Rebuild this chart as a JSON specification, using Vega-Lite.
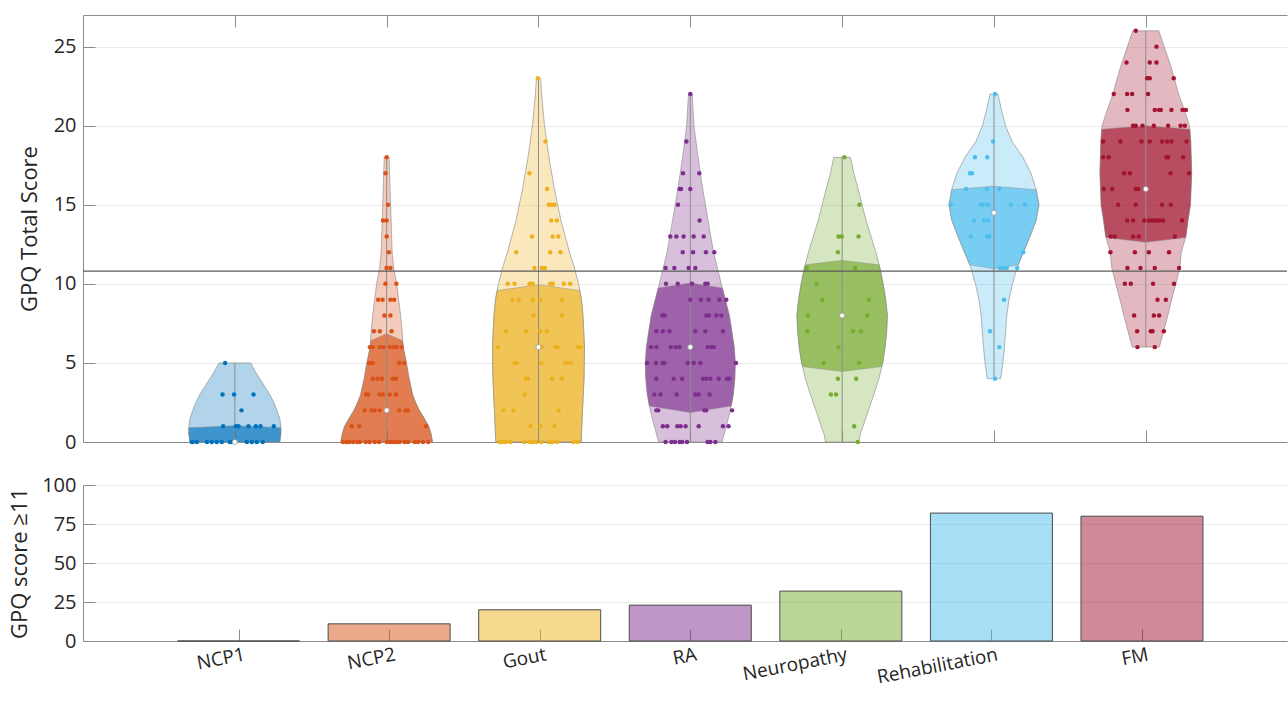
{
  "$schema": "https://vega.github.io/schema/vega-lite/v6.json",
  "padding": {"left": 8, "top": 14, "right": 0, "bottom": 0},
  "bounds": "flush",
  "spacing": 43,
  "config": {
    "view": {"stroke": null},
    "font": "Open Sans",
    "axis": {
      "labelFont": "Open Sans", "titleFont": "Open Sans",
      "labelColor": "#262626", "titleColor": "#262626",
      "labelFontSize": 20, "titleFontSize": 22, "titleFontWeight": "normal",
      "domainColor": "#8c8c8c", "tickColor": "#8c8c8c", "tickSize": -12,
      "gridColor": "#ebebeb", "labelFlush": false
    }
  },
  "datasets": {
    "violin": [
      {"g":"NCP1","v":0,"lo":0.704,"hi":1.296},{"g":"NCP1","v":0.5,"lo":0.697,"hi":1.303},{"g":"NCP1","v":1,"lo":0.697,"hi":1.303},{"g":"NCP1","v":1.5,"lo":0.704,"hi":1.296},{"g":"NCP1","v":2,"lo":0.723,"hi":1.277},{"g":"NCP1","v":2.5,"lo":0.743,"hi":1.257},{"g":"NCP1","v":3,"lo":0.769,"hi":1.231},{"g":"NCP1","v":3.5,"lo":0.802,"hi":1.198},{"g":"NCP1","v":4,"lo":0.835,"hi":1.165},{"g":"NCP1","v":4.5,"lo":0.868,"hi":1.132},{"g":"NCP1","v":5,"lo":0.895,"hi":1.105},
      {"g":"NCP2","v":0,"lo":1.698,"hi":2.302},{"g":"NCP2","v":0.5,"lo":1.707,"hi":2.293},{"g":"NCP2","v":1,"lo":1.723,"hi":2.277},{"g":"NCP2","v":1.5,"lo":1.753,"hi":2.247},{"g":"NCP2","v":2,"lo":1.785,"hi":2.215},{"g":"NCP2","v":2.5,"lo":1.809,"hi":2.191},{"g":"NCP2","v":3,"lo":1.829,"hi":2.171},{"g":"NCP2","v":4,"lo":1.852,"hi":2.148},{"g":"NCP2","v":5,"lo":1.870,"hi":2.130},{"g":"NCP2","v":6,"lo":1.891,"hi":2.109},{"g":"NCP2","v":7,"lo":1.898,"hi":2.102},{"g":"NCP2","v":8,"lo":1.908,"hi":2.092},{"g":"NCP2","v":9,"lo":1.921,"hi":2.079},{"g":"NCP2","v":10,"lo":1.934,"hi":2.066},{"g":"NCP2","v":11,"lo":1.954,"hi":2.046},{"g":"NCP2","v":12,"lo":1.964,"hi":2.036},{"g":"NCP2","v":15,"lo":1.974,"hi":2.026},{"g":"NCP2","v":18,"lo":1.984,"hi":2.016},
      {"g":"Gout","v":0,"lo":2.719,"hi":3.281},{"g":"Gout","v":2,"lo":2.710,"hi":3.290},{"g":"Gout","v":4,"lo":2.700,"hi":3.300},{"g":"Gout","v":6,"lo":2.697,"hi":3.303},{"g":"Gout","v":8,"lo":2.707,"hi":3.293},{"g":"Gout","v":9,"lo":2.717,"hi":3.283},{"g":"Gout","v":10,"lo":2.736,"hi":3.264},{"g":"Gout","v":11,"lo":2.763,"hi":3.237},{"g":"Gout","v":12,"lo":2.796,"hi":3.204},{"g":"Gout","v":14,"lo":2.852,"hi":3.148},{"g":"Gout","v":16,"lo":2.895,"hi":3.105},{"g":"Gout","v":18,"lo":2.931,"hi":3.069},{"g":"Gout","v":20,"lo":2.960,"hi":3.040},{"g":"Gout","v":21,"lo":2.970,"hi":3.030},{"g":"Gout","v":22,"lo":2.980,"hi":3.020},{"g":"Gout","v":23,"lo":2.986,"hi":3.014},
      {"g":"RA","v":0,"lo":3.791,"hi":4.209},{"g":"RA","v":1,"lo":3.763,"hi":4.237},{"g":"RA","v":2,"lo":3.736,"hi":4.264},{"g":"RA","v":3,"lo":3.717,"hi":4.283},{"g":"RA","v":4,"lo":3.707,"hi":4.293},{"g":"RA","v":5,"lo":3.704,"hi":4.296},{"g":"RA","v":6,"lo":3.711,"hi":4.289},{"g":"RA","v":8,"lo":3.743,"hi":4.257},{"g":"RA","v":10,"lo":3.796,"hi":4.204},{"g":"RA","v":12,"lo":3.847,"hi":4.153},{"g":"RA","v":14,"lo":3.883,"hi":4.117},{"g":"RA","v":16,"lo":3.918,"hi":4.082},{"g":"RA","v":18,"lo":3.949,"hi":4.051},{"g":"RA","v":20,"lo":3.976,"hi":4.024},{"g":"RA","v":22,"lo":3.988,"hi":4.012},
      {"g":"Neuropathy","v":0,"lo":4.890,"hi":5.110},{"g":"Neuropathy","v":0.5,"lo":4.881,"hi":5.119},{"g":"Neuropathy","v":1,"lo":4.862,"hi":5.138},{"g":"Neuropathy","v":2,"lo":4.827,"hi":5.173},{"g":"Neuropathy","v":3,"lo":4.791,"hi":5.209},{"g":"Neuropathy","v":4,"lo":4.758,"hi":5.242},{"g":"Neuropathy","v":5,"lo":4.733,"hi":5.267},{"g":"Neuropathy","v":6,"lo":4.717,"hi":5.283},{"g":"Neuropathy","v":7,"lo":4.707,"hi":5.293},{"g":"Neuropathy","v":8,"lo":4.702,"hi":5.298},{"g":"Neuropathy","v":9,"lo":4.713,"hi":5.287},{"g":"Neuropathy","v":10,"lo":4.730,"hi":5.270},{"g":"Neuropathy","v":11,"lo":4.751,"hi":5.249},{"g":"Neuropathy","v":12,"lo":4.778,"hi":5.222},{"g":"Neuropathy","v":14,"lo":4.842,"hi":5.158},{"g":"Neuropathy","v":16,"lo":4.895,"hi":5.105},{"g":"Neuropathy","v":17,"lo":4.923,"hi":5.077},{"g":"Neuropathy","v":18,"lo":4.945,"hi":5.055},
      {"g":"Rehabilitation","v":4,"lo":5.956,"hi":6.044},{"g":"Rehabilitation","v":5,"lo":5.941,"hi":6.059},{"g":"Rehabilitation","v":6,"lo":5.931,"hi":6.069},{"g":"Rehabilitation","v":7,"lo":5.923,"hi":6.077},{"g":"Rehabilitation","v":8,"lo":5.916,"hi":6.084},{"g":"Rehabilitation","v":9,"lo":5.901,"hi":6.099},{"g":"Rehabilitation","v":10,"lo":5.878,"hi":6.122},{"g":"Rehabilitation","v":11,"lo":5.848,"hi":6.152},{"g":"Rehabilitation","v":12,"lo":5.806,"hi":6.194},{"g":"Rehabilitation","v":13,"lo":5.763,"hi":6.237},{"g":"Rehabilitation","v":14,"lo":5.723,"hi":6.277},{"g":"Rehabilitation","v":15,"lo":5.704,"hi":6.296},{"g":"Rehabilitation","v":16,"lo":5.723,"hi":6.277},{"g":"Rehabilitation","v":17,"lo":5.756,"hi":6.244},{"g":"Rehabilitation","v":18,"lo":5.809,"hi":6.191},{"g":"Rehabilitation","v":19,"lo":5.881,"hi":6.119},{"g":"Rehabilitation","v":20,"lo":5.924,"hi":6.076},{"g":"Rehabilitation","v":21,"lo":5.951,"hi":6.049},{"g":"Rehabilitation","v":22,"lo":5.974,"hi":6.026},
      {"g":"FM","v":6,"lo":6.910,"hi":7.090},{"g":"FM","v":7,"lo":6.883,"hi":7.117},{"g":"FM","v":8,"lo":6.855,"hi":7.145},{"g":"FM","v":9,"lo":6.830,"hi":7.170},{"g":"FM","v":10,"lo":6.802,"hi":7.198},{"g":"FM","v":11,"lo":6.776,"hi":7.224},{"g":"FM","v":12,"lo":6.766,"hi":7.234},{"g":"FM","v":13,"lo":6.736,"hi":7.264},{"g":"FM","v":14,"lo":6.722,"hi":7.278},{"g":"FM","v":15,"lo":6.706,"hi":7.294},{"g":"FM","v":17,"lo":6.698,"hi":7.302},{"g":"FM","v":19,"lo":6.704,"hi":7.296},{"g":"FM","v":20,"lo":6.712,"hi":7.288},{"g":"FM","v":21,"lo":6.746,"hi":7.254},{"g":"FM","v":22,"lo":6.784,"hi":7.216},{"g":"FM","v":23,"lo":6.812,"hi":7.188},{"g":"FM","v":24,"lo":6.843,"hi":7.157},{"g":"FM","v":25,"lo":6.879,"hi":7.121},{"g":"FM","v":26,"lo":6.914,"hi":7.086}
    ],
    "iqr": [
      {"g":"NCP1","v":0,"lo":0.704,"hi":1.296},{"g":"NCP1","v":0.5,"lo":0.697,"hi":1.303},{"g":"NCP1","v":0.9,"lo":0.697,"hi":1.303},{"g":"NCP1","v":1.03,"lo":1,"hi":1},
      {"g":"NCP2","v":0,"lo":1.698,"hi":2.302},{"g":"NCP2","v":0.5,"lo":1.707,"hi":2.293},{"g":"NCP2","v":1,"lo":1.723,"hi":2.277},{"g":"NCP2","v":1.5,"lo":1.753,"hi":2.247},{"g":"NCP2","v":2,"lo":1.785,"hi":2.215},{"g":"NCP2","v":2.5,"lo":1.809,"hi":2.191},{"g":"NCP2","v":3,"lo":1.829,"hi":2.171},{"g":"NCP2","v":4,"lo":1.852,"hi":2.148},{"g":"NCP2","v":5,"lo":1.870,"hi":2.130},{"g":"NCP2","v":6,"lo":1.891,"hi":2.109},{"g":"NCP2","v":6.4,"lo":1.895,"hi":2.105},{"g":"NCP2","v":6.85,"lo":2,"hi":2},
      {"g":"Gout","v":0,"lo":2.719,"hi":3.281},{"g":"Gout","v":2,"lo":2.710,"hi":3.290},{"g":"Gout","v":4,"lo":2.700,"hi":3.300},{"g":"Gout","v":6,"lo":2.697,"hi":3.303},{"g":"Gout","v":8,"lo":2.707,"hi":3.293},{"g":"Gout","v":9,"lo":2.717,"hi":3.283},{"g":"Gout","v":9.57,"lo":2.727,"hi":3.273},{"g":"Gout","v":9.95,"lo":3,"hi":3},
      {"g":"RA","v":1.86,"lo":4,"hi":4},{"g":"RA","v":2.28,"lo":3.730,"hi":4.270},{"g":"RA","v":3,"lo":3.717,"hi":4.283},{"g":"RA","v":4,"lo":3.707,"hi":4.293},{"g":"RA","v":5,"lo":3.704,"hi":4.296},{"g":"RA","v":6,"lo":3.711,"hi":4.289},{"g":"RA","v":8,"lo":3.743,"hi":4.257},{"g":"RA","v":9.74,"lo":3.789,"hi":4.211},{"g":"RA","v":10.06,"lo":4,"hi":4},
      {"g":"Neuropathy","v":4.46,"lo":5,"hi":5},{"g":"Neuropathy","v":4.77,"lo":4.740,"hi":5.260},{"g":"Neuropathy","v":5,"lo":4.733,"hi":5.267},{"g":"Neuropathy","v":6,"lo":4.717,"hi":5.283},{"g":"Neuropathy","v":7,"lo":4.707,"hi":5.293},{"g":"Neuropathy","v":8,"lo":4.702,"hi":5.298},{"g":"Neuropathy","v":9,"lo":4.713,"hi":5.287},{"g":"Neuropathy","v":10,"lo":4.730,"hi":5.270},{"g":"Neuropathy","v":11,"lo":4.751,"hi":5.249},{"g":"Neuropathy","v":11.2,"lo":4.756,"hi":5.244},{"g":"Neuropathy","v":11.48,"lo":5,"hi":5},
      {"g":"Rehabilitation","v":10.95,"lo":6,"hi":6},{"g":"Rehabilitation","v":11.2,"lo":5.842,"hi":6.158},{"g":"Rehabilitation","v":12,"lo":5.806,"hi":6.194},{"g":"Rehabilitation","v":13,"lo":5.763,"hi":6.237},{"g":"Rehabilitation","v":14,"lo":5.723,"hi":6.277},{"g":"Rehabilitation","v":15,"lo":5.704,"hi":6.296},{"g":"Rehabilitation","v":15.95,"lo":5.722,"hi":6.278},{"g":"Rehabilitation","v":16.17,"lo":6,"hi":6},
      {"g":"FM","v":12.63,"lo":7,"hi":7},{"g":"FM","v":12.93,"lo":6.738,"hi":7.262},{"g":"FM","v":13,"lo":6.736,"hi":7.264},{"g":"FM","v":14,"lo":6.722,"hi":7.278},{"g":"FM","v":15,"lo":6.706,"hi":7.294},{"g":"FM","v":17,"lo":6.698,"hi":7.302},{"g":"FM","v":19,"lo":6.704,"hi":7.296},{"g":"FM","v":19.78,"lo":6.710,"hi":7.290},{"g":"FM","v":19.99,"lo":7,"hi":7}
    ],
    "pts": [
      {"g":"NCP1","x":0.936,"v":5},{"g":"NCP1","x":0.919,"v":3},{"g":"NCP1","x":0.995,"v":3},{"g":"NCP1","x":1.123,"v":3},{"g":"NCP1","x":1.044,"v":2},
      {"g":"NCP1","x":0.923,"v":1},{"g":"NCP1","x":1.007,"v":1},{"g":"NCP1","x":1.024,"v":1},{"g":"NCP1","x":1.090,"v":1},{"g":"NCP1","x":1.138,"v":1},{"g":"NCP1","x":1.169,"v":1},{"g":"NCP1","x":1.257,"v":1},
      {"g":"NCP1","x":0.717,"v":0},{"g":"NCP1","x":0.723,"v":0},{"g":"NCP1","x":0.750,"v":0},{"g":"NCP1","x":0.816,"v":0},{"g":"NCP1","x":0.848,"v":0},{"g":"NCP1","x":0.881,"v":0},{"g":"NCP1","x":0.914,"v":0},{"g":"NCP1","x":0.967,"v":0},{"g":"NCP1","x":0.980,"v":0},{"g":"NCP1","x":1.079,"v":0},{"g":"NCP1","x":1.112,"v":0},{"g":"NCP1","x":1.145,"v":0},{"g":"NCP1","x":1.184,"v":0},
      {"g":"NCP2","x":2.0,"v":18},{"g":"NCP2","x":1.993,"v":17},{"g":"NCP2","x":2.009,"v":15},{"g":"NCP2","x":1.976,"v":14},{"g":"NCP2","x":1.999,"v":14},{"g":"NCP2","x":2.0,"v":13},{"g":"NCP2","x":2.015,"v":12},{"g":"NCP2","x":1.999,"v":11},{"g":"NCP2","x":2.025,"v":11},{"g":"NCP2","x":1.992,"v":10},{"g":"NCP2","x":2.064,"v":10},
      {"g":"NCP2","x":1.944,"v":9},{"g":"NCP2","x":1.973,"v":9},{"g":"NCP2","x":2.025,"v":9},{"g":"NCP2","x":2.049,"v":9},{"g":"NCP2","x":1.985,"v":8},{"g":"NCP2","x":2.025,"v":8},{"g":"NCP2","x":1.916,"v":7},{"g":"NCP2","x":1.955,"v":7},{"g":"NCP2","x":2.032,"v":7},
      {"g":"NCP2","x":1.889,"v":6},{"g":"NCP2","x":1.908,"v":6},{"g":"NCP2","x":1.954,"v":6},{"g":"NCP2","x":1.980,"v":6},{"g":"NCP2","x":2.020,"v":6},{"g":"NCP2","x":2.046,"v":6},{"g":"NCP2","x":2.066,"v":6},{"g":"NCP2","x":2.099,"v":6},
      {"g":"NCP2","x":1.885,"v":5},{"g":"NCP2","x":1.908,"v":5},{"g":"NCP2","x":2.082,"v":5},{"g":"NCP2","x":2.115,"v":5},
      {"g":"NCP2","x":1.908,"v":4},{"g":"NCP2","x":1.939,"v":4},{"g":"NCP2","x":1.968,"v":4},{"g":"NCP2","x":2.040,"v":4},{"g":"NCP2","x":2.061,"v":4},
      {"g":"NCP2","x":1.863,"v":3},{"g":"NCP2","x":1.878,"v":3},{"g":"NCP2","x":1.954,"v":3},{"g":"NCP2","x":1.976,"v":3},{"g":"NCP2","x":2.020,"v":3},{"g":"NCP2","x":2.061,"v":3},
      {"g":"NCP2","x":1.855,"v":2},{"g":"NCP2","x":1.899,"v":2},{"g":"NCP2","x":1.921,"v":2},{"g":"NCP2","x":1.954,"v":2},{"g":"NCP2","x":2.082,"v":2},{"g":"NCP2","x":2.125,"v":2},{"g":"NCP2","x":2.140,"v":2},
      {"g":"NCP2","x":1.770,"v":1},{"g":"NCP2","x":1.820,"v":1},{"g":"NCP2","x":2.259,"v":1},
      {"g":"NCP2","x":1.713,"v":0},{"g":"NCP2","x":1.736,"v":0},{"g":"NCP2","x":1.753,"v":0},{"g":"NCP2","x":1.779,"v":0},{"g":"NCP2","x":1.806,"v":0},{"g":"NCP2","x":1.824,"v":0},{"g":"NCP2","x":1.863,"v":0},{"g":"NCP2","x":1.889,"v":0},{"g":"NCP2","x":1.922,"v":0},{"g":"NCP2","x":1.950,"v":0},{"g":"NCP2","x":2.002,"v":0},{"g":"NCP2","x":2.024,"v":0},{"g":"NCP2","x":2.046,"v":0},{"g":"NCP2","x":2.064,"v":0},{"g":"NCP2","x":2.086,"v":0},{"g":"NCP2","x":2.119,"v":0},{"g":"NCP2","x":2.141,"v":0},{"g":"NCP2","x":2.185,"v":0},{"g":"NCP2","x":2.207,"v":0},{"g":"NCP2","x":2.240,"v":0},{"g":"NCP2","x":2.273,"v":0},
      {"g":"Gout","x":2.995,"v":23},{"g":"Gout","x":3.046,"v":19},{"g":"Gout","x":2.941,"v":17},{"g":"Gout","x":3.057,"v":16},{"g":"Gout","x":3.068,"v":15},{"g":"Gout","x":3.084,"v":15},{"g":"Gout","x":3.105,"v":15},{"g":"Gout","x":3.084,"v":14},{"g":"Gout","x":3.121,"v":14},
      {"g":"Gout","x":2.958,"v":13},{"g":"Gout","x":3.094,"v":13},{"g":"Gout","x":3.130,"v":13},{"g":"Gout","x":2.853,"v":12},{"g":"Gout","x":3.077,"v":12},{"g":"Gout","x":3.145,"v":12},{"g":"Gout","x":2.974,"v":11},{"g":"Gout","x":3.022,"v":11},{"g":"Gout","x":3.042,"v":11},
      {"g":"Gout","x":2.798,"v":10},{"g":"Gout","x":2.842,"v":10},{"g":"Gout","x":2.941,"v":10},{"g":"Gout","x":2.962,"v":10},{"g":"Gout","x":3.077,"v":10},{"g":"Gout","x":3.094,"v":10},{"g":"Gout","x":3.167,"v":10},{"g":"Gout","x":3.209,"v":10},
      {"g":"Gout","x":2.827,"v":9},{"g":"Gout","x":2.870,"v":9},{"g":"Gout","x":2.962,"v":9},{"g":"Gout","x":3.013,"v":9},{"g":"Gout","x":3.153,"v":9},{"g":"Gout","x":2.967,"v":8},{"g":"Gout","x":3.153,"v":8},
      {"g":"Gout","x":2.787,"v":7},{"g":"Gout","x":2.919,"v":7},{"g":"Gout","x":3.011,"v":7},{"g":"Gout","x":3.055,"v":7},
      {"g":"Gout","x":2.732,"v":6},{"g":"Gout","x":3.024,"v":6},{"g":"Gout","x":3.112,"v":6},{"g":"Gout","x":3.125,"v":6},{"g":"Gout","x":3.259,"v":6},{"g":"Gout","x":3.275,"v":6},
      {"g":"Gout","x":2.842,"v":5},{"g":"Gout","x":2.857,"v":5},{"g":"Gout","x":3.018,"v":5},{"g":"Gout","x":3.176,"v":5},{"g":"Gout","x":3.193,"v":5},{"g":"Gout","x":3.215,"v":5},
      {"g":"Gout","x":2.914,"v":4},{"g":"Gout","x":2.930,"v":4},{"g":"Gout","x":3.090,"v":4},{"g":"Gout","x":3.153,"v":4},{"g":"Gout","x":2.908,"v":3},
      {"g":"Gout","x":2.769,"v":2},{"g":"Gout","x":2.835,"v":2},{"g":"Gout","x":3.132,"v":2},{"g":"Gout","x":2.947,"v":1},{"g":"Gout","x":3.013,"v":1},{"g":"Gout","x":3.105,"v":1},
      {"g":"Gout","x":2.743,"v":0},{"g":"Gout","x":2.761,"v":0},{"g":"Gout","x":2.783,"v":0},{"g":"Gout","x":2.814,"v":0},{"g":"Gout","x":2.908,"v":0},{"g":"Gout","x":2.945,"v":0},{"g":"Gout","x":2.962,"v":0},{"g":"Gout","x":2.985,"v":0},{"g":"Gout","x":3.018,"v":0},{"g":"Gout","x":3.068,"v":0},{"g":"Gout","x":3.090,"v":0},{"g":"Gout","x":3.121,"v":0},{"g":"Gout","x":3.231,"v":0},{"g":"Gout","x":3.259,"v":0},
      {"g":"RA","x":4.0,"v":22},{"g":"RA","x":3.974,"v":19},{"g":"RA","x":3.952,"v":17},{"g":"RA","x":4.059,"v":17},{"g":"RA","x":3.930,"v":16},{"g":"RA","x":3.939,"v":16},{"g":"RA","x":4.0,"v":16},{"g":"RA","x":3.919,"v":15},{"g":"RA","x":4.061,"v":14},
      {"g":"RA","x":3.868,"v":13},{"g":"RA","x":3.908,"v":13},{"g":"RA","x":3.956,"v":13},{"g":"RA","x":4.022,"v":13},{"g":"RA","x":4.088,"v":13},
      {"g":"RA","x":3.950,"v":12},{"g":"RA","x":4.018,"v":12},{"g":"RA","x":4.103,"v":12},{"g":"RA","x":4.158,"v":12},
      {"g":"RA","x":3.837,"v":11},{"g":"RA","x":3.895,"v":11},{"g":"RA","x":3.989,"v":11},{"g":"RA","x":4.033,"v":11},
      {"g":"RA","x":3.840,"v":10},{"g":"RA","x":3.917,"v":10},{"g":"RA","x":4.011,"v":10},{"g":"RA","x":4.099,"v":10},{"g":"RA","x":4.114,"v":10},
      {"g":"RA","x":4.0,"v":9},{"g":"RA","x":4.070,"v":9},{"g":"RA","x":4.120,"v":9},{"g":"RA","x":4.191,"v":9},{"g":"RA","x":4.237,"v":9},
      {"g":"RA","x":3.816,"v":8},{"g":"RA","x":3.831,"v":8},{"g":"RA","x":4.105,"v":8},{"g":"RA","x":4.123,"v":8},{"g":"RA","x":4.171,"v":8},{"g":"RA","x":4.204,"v":8},
      {"g":"RA","x":3.776,"v":7},{"g":"RA","x":3.819,"v":7},{"g":"RA","x":3.863,"v":7},{"g":"RA","x":4.033,"v":7},{"g":"RA","x":4.099,"v":7},{"g":"RA","x":4.215,"v":7},
      {"g":"RA","x":3.741,"v":6},{"g":"RA","x":3.776,"v":6},{"g":"RA","x":3.871,"v":6},{"g":"RA","x":3.904,"v":6},{"g":"RA","x":3.930,"v":6},{"g":"RA","x":4.114,"v":6},{"g":"RA","x":4.137,"v":6},{"g":"RA","x":4.154,"v":6},
      {"g":"RA","x":3.715,"v":5},{"g":"RA","x":3.774,"v":5},{"g":"RA","x":3.818,"v":5},{"g":"RA","x":3.829,"v":5},{"g":"RA","x":3.983,"v":5},{"g":"RA","x":4.022,"v":5},{"g":"RA","x":4.066,"v":5},{"g":"RA","x":4.301,"v":5},
      {"g":"RA","x":3.776,"v":4},{"g":"RA","x":3.890,"v":4},{"g":"RA","x":3.946,"v":4},{"g":"RA","x":4.083,"v":4},{"g":"RA","x":4.105,"v":4},{"g":"RA","x":4.132,"v":4},{"g":"RA","x":4.187,"v":4},{"g":"RA","x":4.242,"v":4},{"g":"RA","x":4.257,"v":4},
      {"g":"RA","x":3.763,"v":3},{"g":"RA","x":3.804,"v":3},{"g":"RA","x":3.910,"v":3},{"g":"RA","x":4.033,"v":3},{"g":"RA","x":4.055,"v":3},{"g":"RA","x":4.127,"v":3},
      {"g":"RA","x":3.776,"v":2},{"g":"RA","x":3.789,"v":2},{"g":"RA","x":4.092,"v":2},{"g":"RA","x":4.105,"v":2},{"g":"RA","x":4.275,"v":2},
      {"g":"RA","x":3.819,"v":1},{"g":"RA","x":3.848,"v":1},{"g":"RA","x":3.914,"v":1},{"g":"RA","x":3.936,"v":1},{"g":"RA","x":3.969,"v":1},{"g":"RA","x":4.055,"v":1},{"g":"RA","x":4.215,"v":1},{"g":"RA","x":4.252,"v":1},
      {"g":"RA","x":3.837,"v":0},{"g":"RA","x":3.876,"v":0},{"g":"RA","x":3.899,"v":0},{"g":"RA","x":3.930,"v":0},{"g":"RA","x":3.946,"v":0},{"g":"RA","x":3.978,"v":0},{"g":"RA","x":4.114,"v":0},{"g":"RA","x":4.132,"v":0},{"g":"RA","x":4.165,"v":0},
      {"g":"Neuropathy","x":5.015,"v":18},{"g":"Neuropathy","x":5.114,"v":15},{"g":"Neuropathy","x":4.976,"v":13},{"g":"Neuropathy","x":4.998,"v":13},{"g":"Neuropathy","x":5.108,"v":13},{"g":"Neuropathy","x":4.972,"v":12},
      {"g":"Neuropathy","x":4.767,"v":11},{"g":"Neuropathy","x":5.086,"v":11},{"g":"Neuropathy","x":4.833,"v":10},{"g":"Neuropathy","x":4.870,"v":9},{"g":"Neuropathy","x":5.176,"v":9},
      {"g":"Neuropathy","x":4.774,"v":8},{"g":"Neuropathy","x":5.165,"v":8},{"g":"Neuropathy","x":4.771,"v":7},{"g":"Neuropathy","x":5.072,"v":7},{"g":"Neuropathy","x":5.124,"v":7},
      {"g":"Neuropathy","x":4.976,"v":6},{"g":"Neuropathy","x":4.879,"v":5},{"g":"Neuropathy","x":5.112,"v":5},{"g":"Neuropathy","x":4.972,"v":4},{"g":"Neuropathy","x":5.092,"v":4},
      {"g":"Neuropathy","x":4.926,"v":3},{"g":"Neuropathy","x":4.960,"v":3},{"g":"Neuropathy","x":5.079,"v":1},{"g":"Neuropathy","x":5.103,"v":0},
      {"g":"Rehabilitation","x":6.007,"v":22},{"g":"Rehabilitation","x":5.995,"v":19},{"g":"Rehabilitation","x":5.875,"v":18},{"g":"Rehabilitation","x":5.956,"v":18},{"g":"Rehabilitation","x":5.842,"v":17},{"g":"Rehabilitation","x":5.855,"v":17},
      {"g":"Rehabilitation","x":5.816,"v":16},{"g":"Rehabilitation","x":5.952,"v":16},{"g":"Rehabilitation","x":6.035,"v":16},
      {"g":"Rehabilitation","x":5.715,"v":15},{"g":"Rehabilitation","x":5.914,"v":15},{"g":"Rehabilitation","x":5.926,"v":15},{"g":"Rehabilitation","x":5.958,"v":15},{"g":"Rehabilitation","x":6.112,"v":15},{"g":"Rehabilitation","x":6.204,"v":15},
      {"g":"Rehabilitation","x":5.868,"v":14},{"g":"Rehabilitation","x":5.934,"v":14},{"g":"Rehabilitation","x":5.962,"v":14},
      {"g":"Rehabilitation","x":5.847,"v":13},{"g":"Rehabilitation","x":5.956,"v":13},{"g":"Rehabilitation","x":5.969,"v":13},{"g":"Rehabilitation","x":6.193,"v":12},
      {"g":"Rehabilitation","x":6.040,"v":11},{"g":"Rehabilitation","x":6.061,"v":11},{"g":"Rehabilitation","x":6.084,"v":11},{"g":"Rehabilitation","x":6.153,"v":11},
      {"g":"Rehabilitation","x":6.066,"v":9},{"g":"Rehabilitation","x":5.974,"v":7},{"g":"Rehabilitation","x":6.035,"v":6},{"g":"Rehabilitation","x":6.007,"v":4},
      {"g":"FM","x":6.934,"v":26},{"g":"FM","x":7.070,"v":25},{"g":"FM","x":6.873,"v":24},{"g":"FM","x":7.026,"v":24},{"g":"FM","x":7.070,"v":24},
      {"g":"FM","x":7.009,"v":23},{"g":"FM","x":7.026,"v":23},{"g":"FM","x":7.184,"v":23},
      {"g":"FM","x":6.789,"v":22},{"g":"FM","x":6.877,"v":22},{"g":"FM","x":6.910,"v":22},{"g":"FM","x":7.015,"v":22},
      {"g":"FM","x":6.879,"v":21},{"g":"FM","x":7.059,"v":21},{"g":"FM","x":7.088,"v":21},{"g":"FM","x":7.099,"v":21},{"g":"FM","x":7.169,"v":21},{"g":"FM","x":7.242,"v":21},{"g":"FM","x":7.264,"v":21},
      {"g":"FM","x":6.916,"v":20},{"g":"FM","x":6.934,"v":20},{"g":"FM","x":6.978,"v":20},{"g":"FM","x":7.053,"v":20},{"g":"FM","x":7.147,"v":20},{"g":"FM","x":7.229,"v":20},{"g":"FM","x":7.257,"v":20},
      {"g":"FM","x":6.719,"v":19},{"g":"FM","x":6.833,"v":19},{"g":"FM","x":6.972,"v":19},{"g":"FM","x":7.026,"v":19},{"g":"FM","x":7.107,"v":19},{"g":"FM","x":7.140,"v":19},{"g":"FM","x":7.169,"v":19},{"g":"FM","x":7.268,"v":19},
      {"g":"FM","x":6.719,"v":18},{"g":"FM","x":6.756,"v":18},{"g":"FM","x":7.136,"v":18},{"g":"FM","x":7.147,"v":18},{"g":"FM","x":7.246,"v":18},
      {"g":"FM","x":6.857,"v":17},{"g":"FM","x":6.895,"v":17},{"g":"FM","x":7.163,"v":17},{"g":"FM","x":7.285,"v":17},
      {"g":"FM","x":6.723,"v":16},{"g":"FM","x":6.778,"v":16},{"g":"FM","x":6.934,"v":16},{"g":"FM","x":6.949,"v":16},
      {"g":"FM","x":6.818,"v":15},{"g":"FM","x":6.934,"v":15},{"g":"FM","x":7.107,"v":15},{"g":"FM","x":7.165,"v":15},
      {"g":"FM","x":6.877,"v":14},{"g":"FM","x":6.916,"v":14},{"g":"FM","x":6.989,"v":14},{"g":"FM","x":7.020,"v":14},{"g":"FM","x":7.038,"v":14},{"g":"FM","x":7.055,"v":14},{"g":"FM","x":7.074,"v":14},{"g":"FM","x":7.092,"v":14},{"g":"FM","x":7.114,"v":14},{"g":"FM","x":7.239,"v":14},
      {"g":"FM","x":6.769,"v":13},{"g":"FM","x":6.796,"v":13},{"g":"FM","x":6.916,"v":13},{"g":"FM","x":6.954,"v":13},{"g":"FM","x":7.191,"v":13},
      {"g":"FM","x":6.767,"v":12},{"g":"FM","x":6.928,"v":12},{"g":"FM","x":7.020,"v":12},{"g":"FM","x":7.153,"v":12},
      {"g":"FM","x":6.879,"v":11},{"g":"FM","x":6.965,"v":11},{"g":"FM","x":7.059,"v":11},{"g":"FM","x":7.219,"v":11},
      {"g":"FM","x":6.862,"v":10},{"g":"FM","x":6.901,"v":10},{"g":"FM","x":7.048,"v":10},{"g":"FM","x":7.186,"v":10},
      {"g":"FM","x":7.077,"v":9},{"g":"FM","x":7.132,"v":9},{"g":"FM","x":6.923,"v":8},{"g":"FM","x":7.053,"v":8},{"g":"FM","x":7.088,"v":8},
      {"g":"FM","x":6.943,"v":7},{"g":"FM","x":7.033,"v":7},{"g":"FM","x":7.044,"v":7},{"g":"FM","x":7.119,"v":7},{"g":"FM","x":6.945,"v":6},{"g":"FM","x":7.059,"v":6}
    ],
    "stats": [
      {"g":"NCP1","c":1,"min":0,"max":5,"med":0},
      {"g":"NCP2","c":2,"min":0,"max":18,"med":2},
      {"g":"Gout","c":3,"min":0,"max":23,"med":6},
      {"g":"RA","c":4,"min":0,"max":22,"med":6},
      {"g":"Neuropathy","c":5,"min":0,"max":18,"med":8},
      {"g":"Rehabilitation","c":6,"min":4,"max":22,"med":14.5},
      {"g":"FM","c":7,"min":6,"max":26,"med":16}
    ],
    "bars": [
      {"g":"NCP1","pos":1,"pct":0},
      {"g":"NCP2","pos":2,"pct":11},
      {"g":"Gout","pos":3,"pct":20},
      {"g":"RA","pos":4,"pct":23},
      {"g":"Neuropathy","pos":5,"pct":32},
      {"g":"Rehabilitation","pos":6,"pct":82},
      {"g":"FM","pos":7,"pct":80}
    ],
    "cut": [{"t": 10.8}]
  },
  "vconcat": [
    {
      "width": 1204,
      "height": 427,
      "layer": [
        {
          "data": {"name": "violin"},
          "mark": {"type": "area", "orient": "horizontal", "fillOpacity": 0.3, "stroke": "#8c8c8c", "strokeWidth": 0.8, "strokeOpacity": 0.8},
          "encoding": {
            "y": {"field": "v", "type": "quantitative", "scale": {"domain": [0, 27], "nice": false},
                  "axis": {"values": [0, 5, 10, 15, 20, 25], "grid": true, "title": "GPQ Total Score", "labelPadding": 19, "titlePadding": 12}},
            "x": {"field": "lo", "type": "quantitative", "scale": {"domain": [0, 7.93], "nice": false, "zero": false},
                  "axis": {"values": [1, 2, 3, 4, 5, 6, 7], "labels": false, "grid": false, "title": null}},
            "x2": {"field": "hi"},
            "color": {"field": "g", "type": "nominal", "legend": null,
                      "scale": {"domain": ["NCP1", "NCP2", "Gout", "RA", "Neuropathy", "Rehabilitation", "FM"],
                                "range": ["#0072BD", "#D95319", "#EDB120", "#7E2F8E", "#77AC30", "#4DBEEE", "#A2142F"]}}
          }
        },
        {
          "data": {"name": "iqr"},
          "mark": {"type": "area", "orient": "horizontal", "fillOpacity": 0.65, "stroke": "#8c8c8c", "strokeWidth": 0.8, "strokeOpacity": 0.6},
          "encoding": {
            "y": {"field": "v", "type": "quantitative"},
            "x": {"field": "lo", "type": "quantitative",
                  "axis": {"orient": "top", "values": [1, 2, 3, 4, 5, 6, 7], "labels": false, "grid": false, "title": null}},
            "x2": {"field": "hi"},
            "color": {"field": "g", "type": "nominal", "legend": null}
          }
        },
        {
          "data": {"name": "stats"},
          "mark": {"type": "rule", "color": "#8c8c8c", "strokeWidth": 1},
          "encoding": {
            "x": {"field": "c", "type": "quantitative", "axis": null},
            "y": {"field": "min", "type": "quantitative"},
            "y2": {"field": "max"}
          }
        },
        {
          "data": {"name": "pts"},
          "mark": {"type": "circle", "size": 20, "opacity": 1},
          "encoding": {
            "x": {"field": "x", "type": "quantitative", "axis": null},
            "y": {"field": "v", "type": "quantitative"},
            "color": {"field": "g", "type": "nominal", "legend": null}
          }
        },
        {
          "data": {"name": "stats"},
          "mark": {"type": "point", "shape": "circle", "size": 26, "filled": true, "fill": "white", "stroke": "#8c8c8c", "strokeWidth": 0.7, "opacity": 1},
          "encoding": {
            "x": {"field": "c", "type": "quantitative", "axis": null},
            "y": {"field": "med", "type": "quantitative"}
          }
        },
        {
          "data": {"name": "cut"},
          "mark": {"type": "rule", "color": "#5a5a5a", "strokeWidth": 1.2},
          "encoding": {
            "y": {"field": "t", "type": "quantitative"}
          }
        }
      ],
      "resolve": {"axis": {"x": "independent"}}
    },
    {
      "width": 1204,
      "height": 156,
      "data": {"name": "bars"},
      "mark": {"type": "bar", "orient": "vertical", "size": 122, "fillOpacity": 0.5, "stroke": "#4d4d4d", "strokeWidth": 1},
      "encoding": {
        "x": {"field": "pos", "type": "quantitative", "scale": {"domain": [0, 7.93], "nice": false, "zero": false},
              "axis": {"values": [1, 2, 3, 4, 5, 6, 7], "grid": false, "title": null,
                       "labelExpr": "['', 'NCP1', 'NCP2', 'Gout', 'RA', 'Neuropathy', 'Rehabilitation', 'FM'][datum.value]",
                       "labelFontSize": 19, "labelAngle": -11, "labelAlign": "right", "labelBaseline": "top", "labelPadding": 16, "labelOffset": 4}},
        "y": {"field": "pct", "type": "quantitative", "scale": {"domain": [0, 100], "nice": false},
              "axis": {"values": [0, 25, 50, 75, 100], "grid": true, "title": "GPQ score ≥11", "labelPadding": 19, "titlePadding": 10}},
        "color": {"field": "g", "type": "nominal", "legend": null,
                  "scale": {"domain": ["NCP1", "NCP2", "Gout", "RA", "Neuropathy", "Rehabilitation", "FM"],
                            "range": ["#0072BD", "#D95319", "#EDB120", "#7E2F8E", "#77AC30", "#4DBEEE", "#A2142F"]}}
      }
    }
  ]
}
